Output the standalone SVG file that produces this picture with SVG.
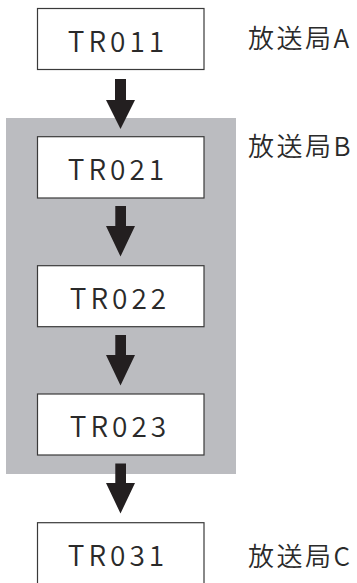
<svg xmlns="http://www.w3.org/2000/svg" width="357" height="583" viewBox="0 0 357 583">
<style>
.box{fill:#fff;stroke:#3a3a3a;stroke-width:1.2}
.t{font-family:"Noto Sans CJK JP","Noto Sans",sans-serif;font-size:28px;font-weight:350;fill:#2a2a2a;text-anchor:middle;letter-spacing:4px}
.lb{font-family:"Noto Sans CJK JP","Noto Sans",sans-serif;font-size:26px;font-weight:350;fill:#2a2a2a;letter-spacing:2.5px}
.ar{fill:#231f20}
</style>
<rect id="groupB" x="6" y="118" width="230" height="356" fill="#bbbcc0"/>
<g id="connectors">
<path class="ar" d="M115,79 H126 V100 H135 L120.5,129 L106,100 H115 Z"/>
<path class="ar" d="M115.3,206 H126 V226 H135 L120.5,256.5 L106,226 H115.3 Z"/>
<path class="ar" d="M115.3,335 H126 V355 H135 L120.5,385.5 L106,355 H115.3 Z"/>
<path class="ar" d="M115.3,463.5 H126 V483 H135 L120.5,513.5 L106,483 H115.3 Z"/>
</g>
<g id="TR011"><rect class="box" x="37.5" y="8.5" width="166.5" height="61"/><text class="t" x="118" y="52">TR011</text></g>
<g id="TR021"><rect class="box" x="37.5" y="136.7" width="166.5" height="61.3"/><text class="t" x="118" y="180">TR021</text></g>
<g id="TR022"><rect class="box" x="37.5" y="265.7" width="166.5" height="61"/><text class="t" x="120" y="309">TR022</text></g>
<g id="TR023"><rect class="box" x="37.5" y="394" width="166.5" height="61"/><text class="t" x="120" y="437">TR023</text></g>
<g id="TR031"><rect class="box" x="37.5" y="522.7" width="166.5" height="61"/><text class="t" x="118" y="566">TR031</text></g>
<g id="labelA"><text class="lb" x="248" y="48">放送局A</text></g>
<g id="labelB"><text class="lb" x="248" y="156">放送局B</text></g>
<g id="labelC"><text class="lb" x="248" y="566">放送局C</text></g>
</svg>
